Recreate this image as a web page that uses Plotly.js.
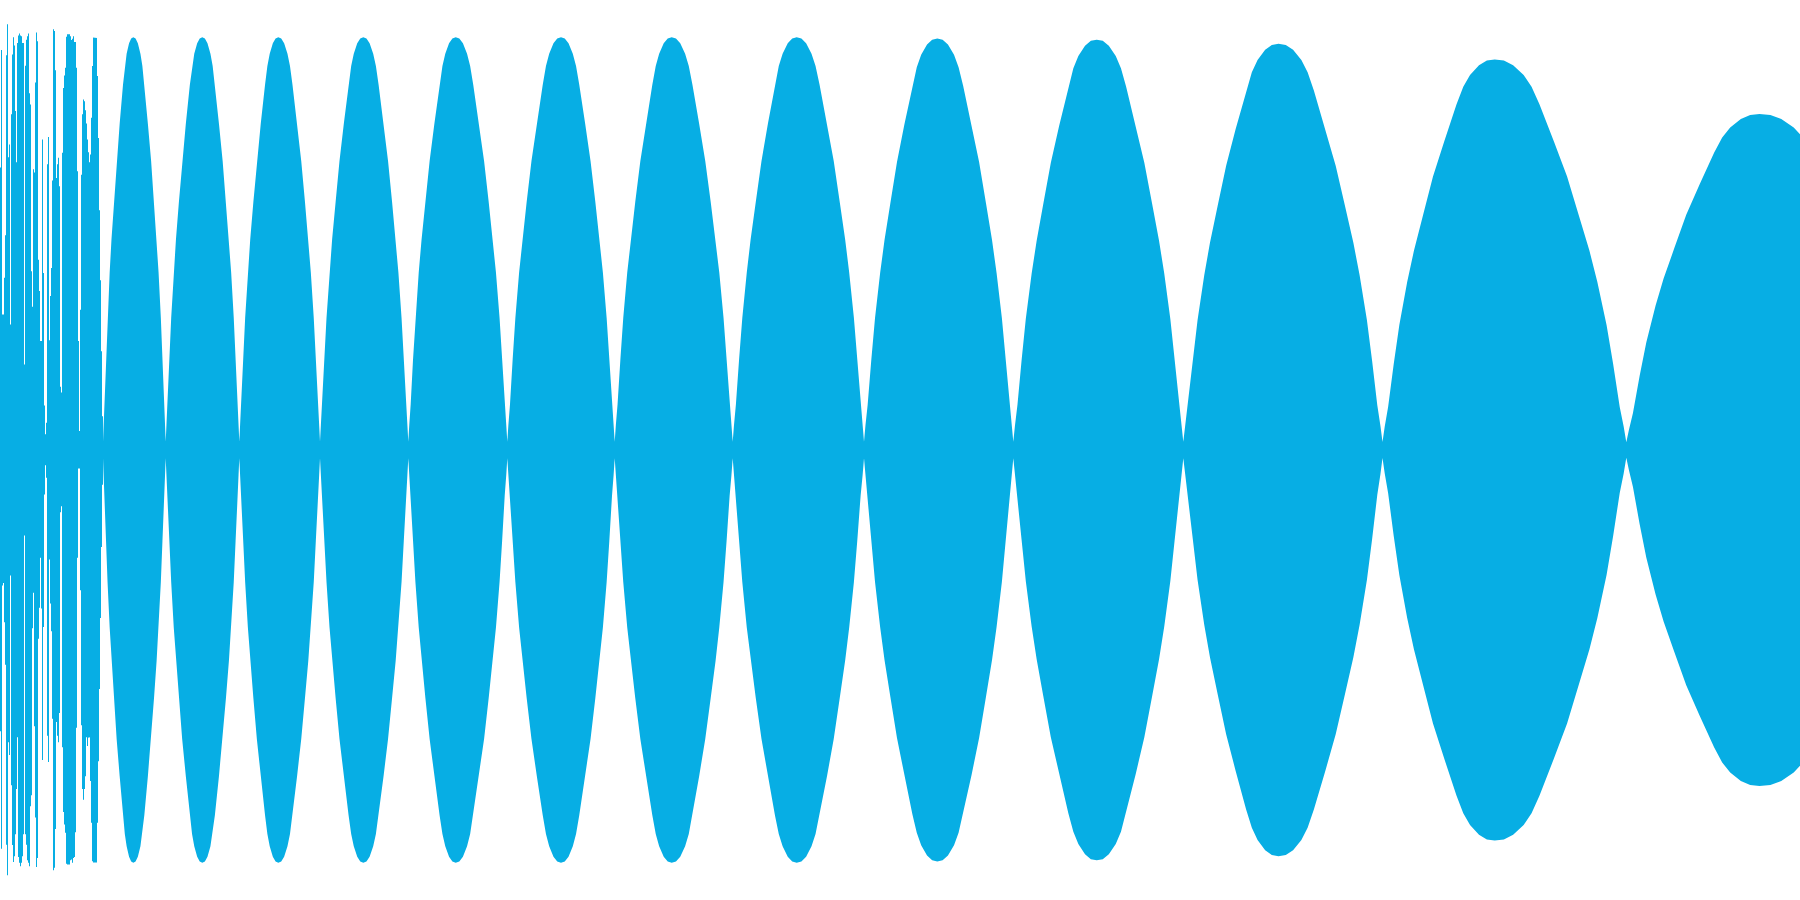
<!DOCTYPE html>
<html>
<head>
<meta charset="utf-8">
<script src="https://cdn.plot.ly/plotly-3.0.1.min.js"></script>
<style>
html, body { margin: 0; padding: 0; background: #ffffff; }
#chart { width: 1800px; height: 900px; }
</style>
</head>
<body>
<div id="chart"></div>
<script>
// Early chaotic burst: per-sample upper and lower extent (samples 0..102)
const burstTop = [0.684, 0.969, 0.328, 0.328, 0.417, 0.52, 0.956, 1.031, 0.709, 0.74,
  0.304, 0.813, 0.958, 1.0, 0.98, 0.821, 0.697, 0.986, 1.004, 1.009,
  1.004, 1.002, 0.986, 0.986, 0.207, 0.931, 0.994, 1.002, 1.009, 0.864,
  0.837, 0.433, 0.347, 0.68, 0.672, 0.89, 1.011, 0.99, 0.461, 0.385,
  0.264, 0.264, 0.752, 0.429, 0.108, 0.038, 0.066, 0.692, 0.758, 0.266,
  0.373, 0.441, 0.653, 1.019, 1.015, 0.92, 0.659, 0.692, 0.708, 0.639,
  0.153, 0.139, 0.72, 0.877, 0.907, 0.926, 1.001, 1.007, 1.007, 1.007,
  1.002, 0.993, 0.996, 1.002, 0.988, 0.988, 0.926, 0.675, 0.264, 0.046,
  0.34, 0.667, 0.813, 0.849, 0.845, 0.823, 0.791, 0.752, 0.721, 0.697,
  0.716, 0.805, 0.93, 0.999, 0.998, 0.998, 0.998, 0.906, 0.756, 0.581,
  0.411, 0.239, 0.082];
const burstBottom = [-0.681, -0.966, -0.328, -0.322, -0.417, -0.52, -0.956, -1.03, -0.708, -0.739,
  -0.304, -0.812, -0.957, -0.998, -0.984, -0.931, -0.821, -0.696, -0.986, -1.0,
  -1.008, -1.0, -0.984, -0.931, -0.207, -0.931, -0.956, -0.994, -1.0, -1.008,
  -0.863, -0.836, -0.432, -0.346, -0.669, -0.89, -1.01, -0.988, -0.457, -0.382,
  -0.261, -0.384, -0.751, -0.429, -0.108, -0.037, -0.067, -0.692, -0.756, -0.265,
  -0.372, -0.439, -0.651, -1.018, -1.012, -0.918, -0.659, -0.692, -0.708, -0.637,
  -0.151, -0.136, -0.72, -0.877, -0.907, -0.927, -1.002, -1.004, -1.004, -1.004,
  -0.994, -0.992, -1.0, -0.988, -0.986, -0.926, -0.673, -0.261, -0.045, -0.045,
  -0.34, -0.667, -0.821, -0.847, -0.821, -0.79, -0.696, -0.717, -0.697, -0.696,
  -0.802, -0.903, -0.996, -0.999, -0.999, -0.999, -0.999, -0.903, -0.754, -0.579,
  -0.407, -0.235, -0.084];

// Beat lobes: start (node), crest position, end (node), crest amplitude
const lobeStart = [103, 165.7, 239.3, 320, 408.3, 507.3, 614.7, 732.7, 864, 1013.3, 1183.3, 1382.5, 1626.3];
const lobePeak  = [133.3, 202.3, 278.3, 363.3, 455.7, 561, 671.7, 796.7, 937.3, 1096.7, 1278.5, 1494.7, 1759.5];
const lobeEnd   = [165.7, 239.3, 320, 408.3, 507.3, 614.7, 732.7, 864, 1013.3, 1183.3, 1382.5, 1626.3, 1915];
const lobeAmp   = [1.0, 1.0, 1.0, 1.0, 1.0, 1.0, 1.0, 1.0, 0.997, 0.994, 0.984, 0.946, 0.814];

// Envelope profile of a lobe flank (node -> crest)
const profileFrac  = [0, 0.02, 0.05, 0.1, 0.15, 0.22, 0.28, 0.36, 0.45, 0.55, 0.66, 0.72, 0.78, 0.86, 0.93, 1];
const profileLevel = [0.02, 0.06, 0.11, 0.22, 0.32, 0.43, 0.51, 0.6, 0.7, 0.79, 0.885, 0.93, 0.96, 0.985, 0.997, 1];

const COLOR = '#07aee4';

// Build burst polygon (step outline)
const bx = [], by = [];
for (let i = 0; i < burstTop.length; i++) { bx.push(i, i + 1); by.push(burstTop[i], burstTop[i]); }
for (let i = burstBottom.length - 1; i >= 0; i--) { bx.push(i + 1, i); by.push(burstBottom[i], burstBottom[i]); }

// Build lobe envelope
const ex = [], ey = [];
const n = profileFrac.length;
for (let k = 0; k < lobeStart.length; k++) {
  const s = lobeStart[k], p = lobePeak[k], e = lobeEnd[k], a = lobeAmp[k];
  for (let j = (k === 0 ? 0 : 1); j < n; j++) {
    ex.push(s + profileFrac[j] * (p - s));
    ey.push(a * profileLevel[j]);
  }
  for (let j = n - 2; j >= 0; j--) {
    ex.push(e - profileFrac[j] * (e - p));
    ey.push(a * profileLevel[j]);
  }
}
const lx = ex.concat(ex.slice().reverse());
const ly = ey.concat(ey.slice().reverse().map(v => -v));

const traces = [
  { type: 'scatter', mode: 'lines', x: bx, y: by, fill: 'toself', fillcolor: COLOR,
    line: { width: 0, color: COLOR }, hoverinfo: 'skip' },
  { type: 'scatter', mode: 'lines', x: lx, y: ly, fill: 'toself', fillcolor: COLOR,
    line: { width: 0, color: COLOR }, hoverinfo: 'skip' }
];

const layout = {
  width: 1800, height: 900,
  margin: { l: 0, r: 0, t: 0, b: 0, pad: 0 },
  paper_bgcolor: '#ffffff', plot_bgcolor: '#ffffff',
  showlegend: false,
  xaxis: { range: [0, 1800], visible: false, fixedrange: true },
  yaxis: { range: [-1.09, 1.09], visible: false, fixedrange: true }
};

Plotly.newPlot('chart', traces, layout, { staticPlot: true, displayModeBar: false });
</script>
</body>
</html>
